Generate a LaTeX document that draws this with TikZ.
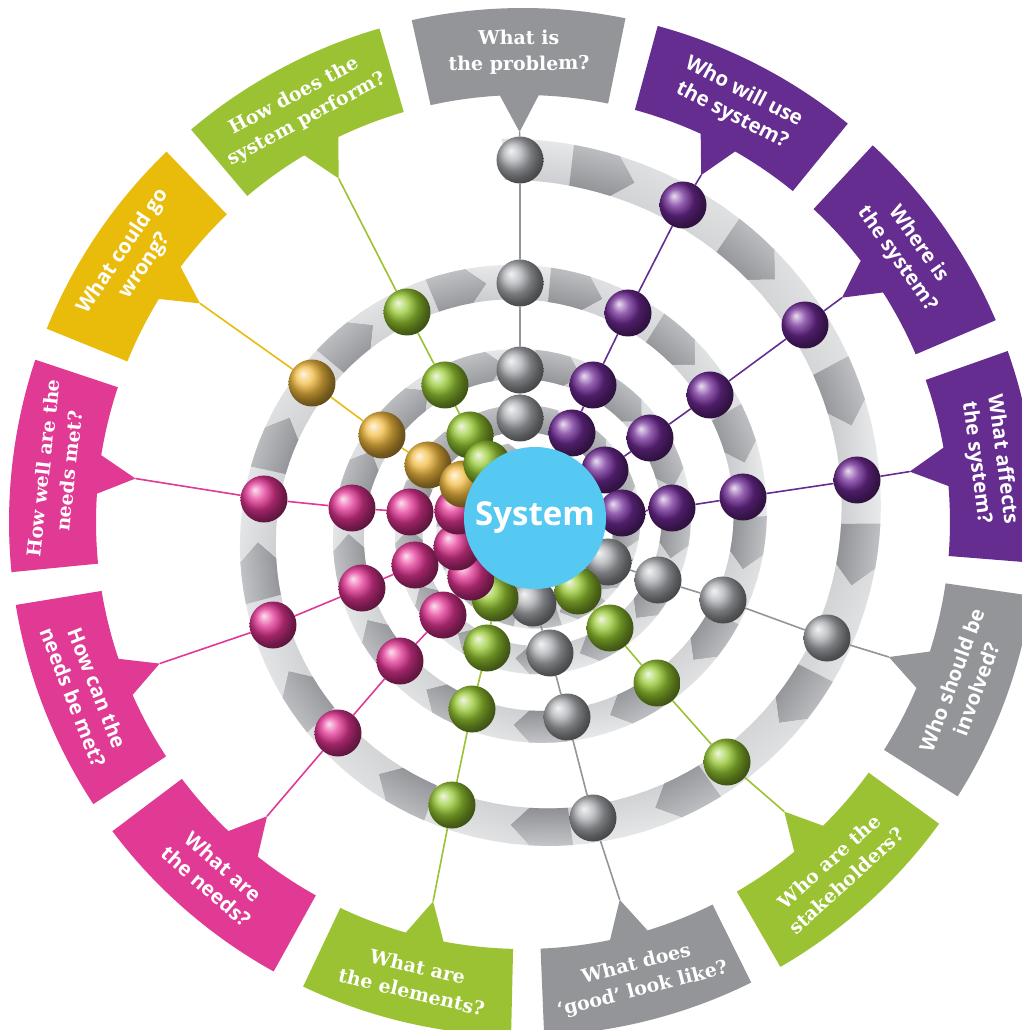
\documentclass[tikz,border=0pt]{standalone}
\usepackage{fontspec}
\newfontfamily\qslab{DejaVu Serif}
\newfontfamily\qsans{Open Sans}
\newcommand\slabq{\qslab\bfseries\fontsize{19}{26}\selectfont}
\newcommand\sansq{\qsans\bfseries\fontsize{20.5}{26}\selectfont}
\newcommand\sysq{\qsans\bfseries\fontsize{33}{36}\selectfont}
\definecolor{qgrey}{RGB}{147,149,152}
\definecolor{qpurple}{RGB}{102,45,145}
\definecolor{qgreen}{RGB}{155,194,50}
\definecolor{qpink}{RGB}{224,58,148}
\definecolor{qyellow}{RGB}{233,188,12}
\definecolor{syscyan}{RGB}{85,201,242}
\definecolor{bgrey}{RGB}{172,174,178}
\definecolor{bpurple}{RGB}{112,42,150}
\definecolor{bpink}{RGB}{228,52,148}
\definecolor{bgreen}{RGB}{150,200,48}
\definecolor{byellow}{RGB}{242,186,62}
\definecolor{bandlight}{RGB}{236,237,238}
\definecolor{bandmid}{RGB}{196,197,200}
\definecolor{banddark}{RGB}{142,144,148}
\pgfdeclarelayer{band}
\pgfdeclarelayer{links}
\pgfsetlayers{band,links,main}
\tikzset{
  orb/.style={circle, inner sep=0pt, minimum size=47pt, ball color=#1},
  link/.style={draw=#1, line width=1.6pt},
  qtext/.style={text=white, align=center, inner sep=0pt},
}

\begin{document}
\begin{tikzpicture}[x=1pt,y=1pt,
  declare function={sr(\t)=367*exp(-0.0011333*\t); sw(\t)=21+0.055*sr(\t);
    px(\t,\o)=6+(sr(\t)+\o*sw(\t))*sin(\t); py(\t,\o)=-5+(sr(\t)+\o*sw(\t))*cos(\t);}]
\useasboundingbox (-523,-508) rectangle (498,522);
\clip (-523,-508) rectangle (498,522);

\begin{pgfonlayer}{band}
\fill[white] (-523,-508) rectangle (498,522);

%Shape: Spiral of arrows
\foreach \j in {0,...,51}{
  \pgfmathsetmacro\pa{\j==0 ? -4 : 13.85+27.69*(\j-1)}
  \pgfmathsetmacro\pb{13.85+27.69*\j}
  \pgfmathsetmacro\dd{deg(0.5*sw(\pb)/sr(\pb))}
  \pgfmathsetmacro\hl{deg(1.1*sw(\pb)/sr(\pb))}
  \pgfmathsetmacro\pc{\pb-\hl}
  \pgfmathsetmacro\na{\j==0 ? 0 : deg(0.5*sw(\pa)/sr(\pa))}
  \pgfmathsetmacro\ang{atan2(py(\pb,0)-py(\pa,0), px(\pb,0)-px(\pa,0))}
  \pgfmathsetmacro\angh{atan2(py(\pb,0)-py(\pc,0), px(\pb,0)-px(\pc,0))}
  % body
  \shade[left color=bandlight, right color=bandmid, shading angle=\ang]
    plot[domain=\pa:\pb, samples=9] ({px(\x,0.5)}, {py(\x,0.5)})
    -- ({px(\pb+\dd,0)}, {py(\pb+\dd,0)})
    -- plot[domain=\pb:\pa, samples=9] ({px(\x,-0.5)}, {py(\x,-0.5)})
    -- ({px(\pa+\na,0)}, {py(\pa+\na,0)}) -- cycle;
  % head
  \shade[left color=bandmid, right color=banddark, shading angle=\angh]
    plot[domain=\pc:\pb, samples=4] ({px(\x,0.5)}, {py(\x,0.5)})
    -- ({px(\pb+\dd,0)}, {py(\pb+\dd,0)})
    -- plot[domain=\pb:\pc, samples=4] ({px(\x,-0.5)}, {py(\x,-0.5)}) -- cycle;
}

%Shape: Callouts
\foreach \k/\rot/\col/\fnt/\txt in {
  0/0.5/qgrey/\slabq/{What is\\the problem?},
  1/-27.2/qpurple/\sansq/{Who will use\\the system?},
  2/-54.9/qpurple/\sansq/{Where is\\the system?},
  3/-82.6/qpurple/\sansq/{What affects\\the system?},
  4/69.7/qgrey/\sansq/{Who should be\\involved?},
  5/42/qgreen/\slabq/{Who are the\\stakeholders?},
  6/14.4/qgrey/\slabq/{What does\\‘good’ look like?},
  7/-13.3/qgreen/\slabq/{What are\\the elements?},
  8/-41/qpink/\sansq/{What are\\the needs?},
  9/-68.7/qpink/\sansq/{How can the\\needs be met?},
  10/83.6/qpink/\slabq/{How well are the\\needs met?},
  11/55.9/qyellow/\sansq/{What could go\\wrong?},
  12/28.2/qgreen/\slabq/{How does the\\system perform?}}{
  \pgfmathsetmacro\th{90.5-27.69*\k}
  \fill[\col] ({\th+12}:514) arc[start angle=\th+12, end angle=\th-12, radius=514]
    -- ({\th-12}:427) arc[start angle=\th-12, end angle=\th-2.6, radius=427]
    -- ({\th}:390) -- ({\th+2.6}:427) arc[start angle=\th+2.6, end angle=\th+12, radius=427] -- cycle;
  % Text Node
  \node[qtext, font=\fnt, rotate=\rot] (q\k) at ({\th}:470) {\txt};
  \coordinate (t\k) at ({\th}:390);
}
\end{pgfonlayer}

%Shape: Balls, outer turn
\node[orb=bgrey] (b0-1) at (-3,362) {};
\node[orb=bpurple] (b1-1) at (160,317) {};
\node[orb=bpurple] (b2-1) at (282,197) {};
\node[orb=bpurple] (b3-1) at (334,42) {};
\node[orb=bgrey] (b4-1) at (304,-116) {};
\node[orb=bgreen] (b5-1) at (204,-240) {};
\node[orb=bgrey] (b6-1) at (70,-296) {};
\node[orb=bgreen] (b7-1) at (-71,-283) {};
\node[orb=bpink] (b8-1) at (-185,-211) {};
\node[orb=bpink] (b9-1) at (-250,-103) {};
\node[orb=bpink] (b10-1) at (-259,23) {};
\node[orb=byellow] (b11-1) at (-211,139) {};
\node[orb=bgreen] (b12-1) at (-116,210) {};
%Shape: Balls, second turn
\node[orb=bgrey] (b0-2) at (-3,239) {};
\node[orb=bpurple] (b1-2) at (105,209) {};
\node[orb=bpurple] (b2-2) at (187,127) {};
\node[orb=bpurple] (b3-2) at (220,25) {};
\node[orb=bgrey] (b4-2) at (200,-78) {};
\node[orb=bgreen] (b5-2) at (134,-161) {};
\node[orb=bgrey] (b6-2) at (44,-195) {};
\node[orb=bgreen] (b7-2) at (-51,-187) {};
\node[orb=bpink] (b8-2) at (-123,-139) {};
\node[orb=bpink] (b9-2) at (-161,-66) {};
\node[orb=bpink] (b10-2) at (-171,14) {};
\node[orb=byellow] (b11-2) at (-141,87) {};
\node[orb=bgreen] (b12-2) at (-78,137) {};
%Shape: Balls, third turn
\node[orb=bgrey] (b0-3) at (-3,152) {};
\node[orb=bpurple] (b1-3) at (70,137) {};
\node[orb=bpurple] (b2-3) at (127,84) {};
\node[orb=bpurple] (b3-3) at (149,14) {};
\node[orb=bgrey] (b4-3) at (135,-58) {};
\node[orb=bgreen] (b5-3) at (87,-106) {};
\node[orb=bgrey] (b6-3) at (27,-131) {};
\node[orb=bgreen] (b7-3) at (-36,-126) {};
\node[orb=bpink] (b8-3) at (-80,-93) {};
\node[orb=bpink] (b9-3) at (-108,-43) {};
\node[orb=bpink] (b10-3) at (-113,10) {};
\node[orb=byellow] (b11-3) at (-95,57) {};
\node[orb=bgreen] (b12-3) at (-53,87) {};
%Shape: Balls, inner turn
\node[orb=bgrey] (b0-4) at (-3,104) {};
\node[orb=bpurple] (b1-4) at (49,89) {};
\node[orb=bpurple] (b2-4) at (82,52) {};
\node[orb=bpurple] (b3-4) at (99,9) {};
\node[orb=bgrey] (b4-4) at (85,-40) {};
\node[orb=bgreen] (b5-4) at (55,-69) {};
\node[orb=bgrey] (b6-4) at (10,-81) {};
\node[orb=bgreen] (b7-4) at (-28,-76) {};
\node[orb=bpink] (b8-4) at (-52,-55) {};
\node[orb=bpink] (b9-4) at (-66,-25) {};
\node[orb=bpink] (b10-4) at (-65,11) {};
\node[orb=byellow] (b11-4) at (-60,38) {};
\node[orb=bgreen] (b12-4) at (-36,58) {};

%Straight Lines
\begin{pgfonlayer}{links}
\draw[link=qgrey] (t0) -- (b0-1) -- (b0-2) -- (b0-3) -- (b0-4);
\draw[link=qpurple] (t1) -- (b1-1) -- (b1-2) -- (b1-3) -- (b1-4);
\draw[link=qpurple] (t2) -- (b2-1) -- (b2-2) -- (b2-3) -- (b2-4);
\draw[link=qpurple] (t3) -- (b3-1) -- (b3-2) -- (b3-3) -- (b3-4);
\draw[link=qgrey] (t4) -- (b4-1) -- (b4-2) -- (b4-3) -- (b4-4);
\draw[link=qgreen] (t5) -- (b5-1) -- (b5-2) -- (b5-3) -- (b5-4);
\draw[link=qgrey] (t6) -- (b6-1) -- (b6-2) -- (b6-3) -- (b6-4);
\draw[link=qgreen] (t7) -- (b7-1) -- (b7-2) -- (b7-3) -- (b7-4);
\draw[link=qpink] (t8) -- (b8-1) -- (b8-2) -- (b8-3) -- (b8-4);
\draw[link=qpink] (t9) -- (b9-1) -- (b9-2) -- (b9-3) -- (b9-4);
\draw[link=qpink] (t10) -- (b10-1) -- (b10-2) -- (b10-3) -- (b10-4);
\draw[link=qyellow] (t11) -- (b11-1) -- (b11-2) -- (b11-3) -- (b11-4);
\draw[link=qgreen] (t12) -- (b12-1) -- (b12-2) -- (b12-3) -- (b12-4);
\end{pgfonlayer}

%Shape: Circle
\node[circle, fill=syscyan, minimum size=142pt, inner sep=0pt, text=white, font=\sysq] (sys) at (12,4) {System};

\end{tikzpicture}
\end{document}
